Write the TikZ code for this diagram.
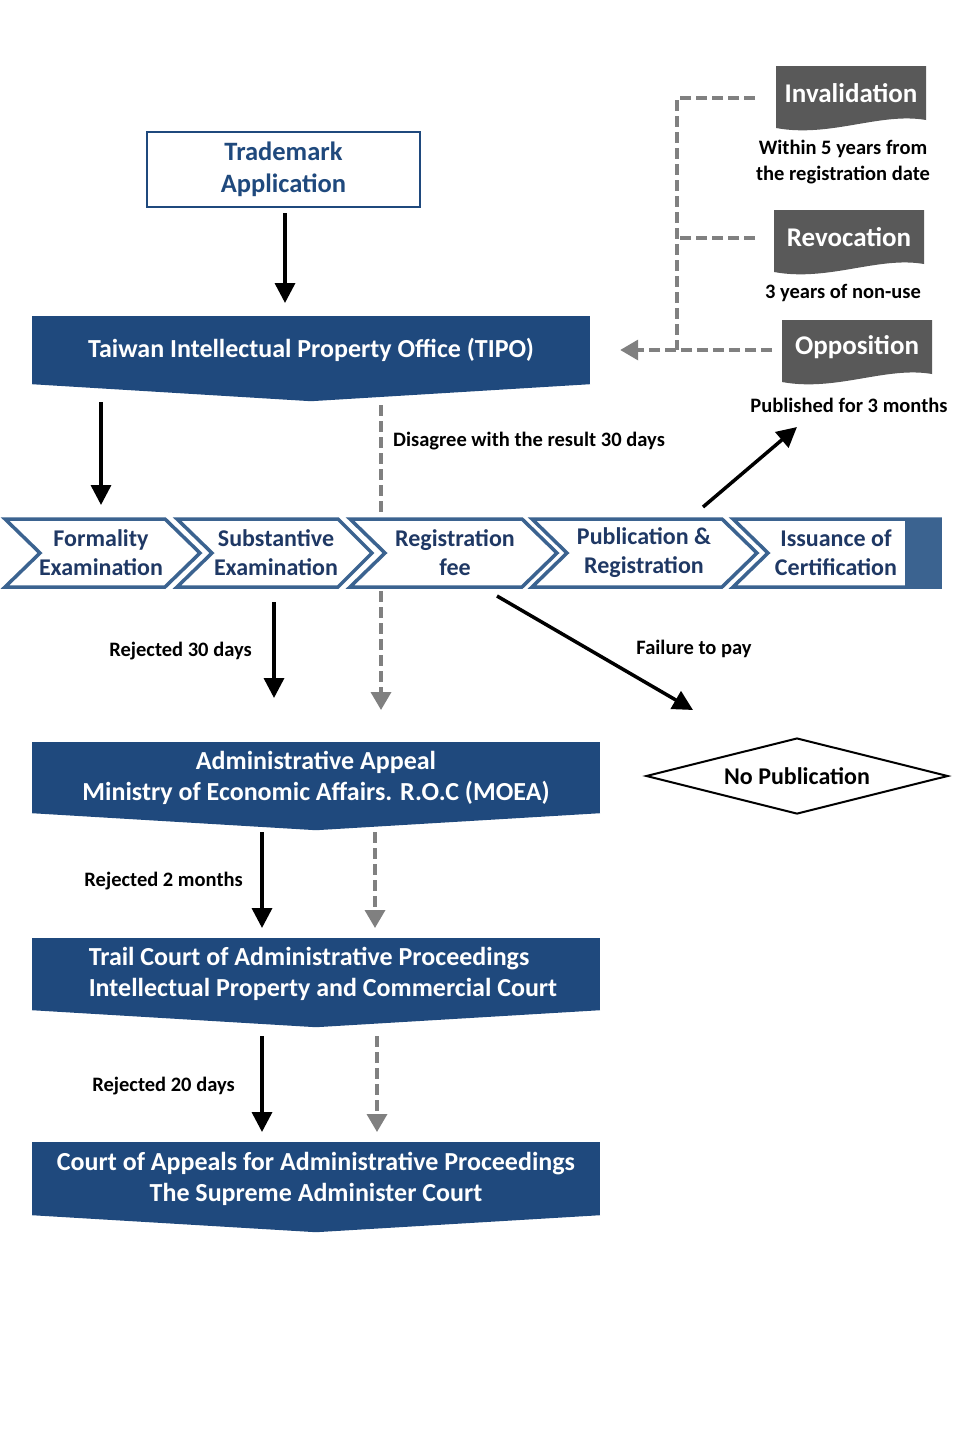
\documentclass[tikz,border=0pt]{standalone}
\usepackage{fontspec}
\setmainfont{Carlito}
\usetikzlibrary{positioning,shapes.geometric,arrows.meta}

\definecolor{tipoblue}{RGB}{31,73,125}
\definecolor{chevblue}{RGB}{59,99,144}
\definecolor{navytext}{RGB}{31,56,100}
\definecolor{docgray}{RGB}{89,89,89}
\definecolor{dashgray}{RGB}{128,128,128}

\tikzset{
  banner/.style={fill=tipoblue,text=white,font=\bfseries\fontsize{26}{31}\selectfont,
    minimum width=568,inner sep=0,align=center},
  chevtext/.style={text=navytext,font=\bfseries\fontsize{24}{29}\selectfont,align=center,inner sep=0},
  chev/.style={draw=chevblue,line width=3.5pt,fill=white,line join=miter},
  docbox/.style={text=white,font=\bfseries\fontsize{27}{30}\selectfont,inner sep=0},
  note/.style={font=\bfseries\fontsize{20.5}{26}\selectfont,align=center,inner sep=0},
  blackarr/.style={line width=3.5pt,-{Triangle[length=20pt,width=20pt]}},
  grayarr/.style={dashgray,line width=3.5pt,dash pattern=on 11pt off 5pt,-{Triangle[length=18pt,width=20pt]}},
  grayline/.style={dashgray,line width=3.5pt,dash pattern=on 11pt off 5pt},
}

\begin{document}
\begin{tikzpicture}[x=1pt,y=-1pt]
\useasboundingbox[fill=white] (0,0) rectangle (960,1440);

% application box
\node[draw=tipoblue,line width=2.5pt,fill=white,minimum width=273,minimum height=75,inner sep=0,
  text=tipoblue,font=\bfseries\fontsize{26.5}{32}\selectfont,align=center] (app) at (283.5,169.5) {Trademark\\Application};

% TIPO banner
\node[banner,minimum width=558,minimum height=68] (tipo) at (311,350) {Taiwan Intellectual Property Office (TIPO)};
\fill[tipoblue] (tipo.south west) -- (tipo.south east) -- ([yshift=-17pt]tipo.south) -- cycle;

% steps row
\draw[chev] (5,519) -- (165,519) -- (200,553) -- (165,587) -- (5,587) -- (40,553) -- cycle;
\draw[chev] (177,519) -- (338,519) -- (372,553) -- (338,587) -- (177,587) -- (212,553) -- cycle;
\draw[chev] (350,519) -- (522,519) -- (557,553) -- (522,587) -- (350,587) -- (385,553) -- cycle;
\draw[chev] (532,519) -- (722,519) -- (757,553) -- (722,587) -- (532,587) -- (567,553) -- cycle;
\draw[chev] (733,519) -- (940,519) -- (940,587) -- (733,587) -- (768,553) -- cycle;
\fill[chevblue] (905,519) rectangle (940,587);
\node[chevtext] (formal) at (101,553) {Formality\\Examination};
\node[chevtext] (subst) at (276,553) {Substantive\\Examination};
\node[chevtext] (fee) at (455,553) {Registration\\fee};
\node[chevtext] (publ) at (644,553) {Publication \&\\Registration};
\node[chevtext] (issue) at (836,553) {Issuance of\\Certification};

% appeal levels
\node[banner,minimum height=71] (appeal) at (316,777.5) {Administrative Appeal\\Ministry of Economic Affairs. R.O.C (MOEA)};
\fill[tipoblue] (appeal.south west) -- (appeal.south east) -- ([yshift=-17pt]appeal.south) -- cycle;
\node[banner,minimum height=72,align=left] (trial) at (316,974) {\hspace*{14pt}Trail Court of Administrative Proceedings\\\hspace*{14pt}Intellectual Property and Commercial Court};
\fill[tipoblue] (trial.south west) -- (trial.south east) -- ([yshift=-17pt]trial.south) -- cycle;
\node[banner,minimum height=73] (supreme) at (316,1178.5) {Court of Appeals for Administrative Proceedings\\The Supreme Administer Court};
\fill[tipoblue] (supreme.south west) -- (supreme.south east) -- ([yshift=-17pt]supreme.south) -- cycle;

% no publication
\node[draw,line width=2pt,diamond,aspect=4,minimum width=302,minimum height=76,inner sep=0,
  font=\bfseries\fontsize{24}{28}\selectfont] (nopub) at (797,776) {No Publication};

% opposition etc
\fill[docgray] (776,66) -- (926,66) -- (926,120) .. controls (880,112) and (830,138) .. (776,128) -- cycle;
\node[docbox] (inval) at (851,93) {Invalidation};
\fill[docgray] (774,210) -- (924,210) -- (924,264) .. controls (878,256) and (828,282) .. (774,272) -- cycle;
\node[docbox] (revoc) at (849,237) {Revocation};
\fill[docgray] (782,320) -- (932,320) -- (932,374) .. controls (886,366) and (836,392) .. (782,382) -- cycle;
\node[docbox] (oppos) at (857,347) {Opposition};
\node[note] (invaltxt) at (843,162) {Within 5 years from\\the registration date};
\node[note] (revoctxt) at (843,293) {3 years of non-use};
\node[note] (oppostxt) at (849,405) {Published for 3 months};

\coordinate (join) at (677,350);
\draw[grayline] (755,98) -| (join);
\draw[grayline] (755,238) -- (677,238);
\draw[grayarr] (772,350) -- ([xshift=30pt]tipo.east);

% labels
\node[note,anchor=west] (disagree) at (393,441) {Disagree with the result 30 days};
\node[note,anchor=east] (rej30) at (252,651) {Rejected 30 days};
\node[note] (failpay) at (694,649) {Failure to pay};
\node[note,anchor=east] (rej2m) at (243,881) {Rejected 2 months};
\node[note,anchor=east] (rej20) at (235,1086) {Rejected 20 days};

% arrows
\draw[blackarr] (285,213) -- (285,303);
\draw[blackarr] (101,402) -- (101,505);
\draw[grayline] (381,405) -- (381,515);
\draw[grayarr] (381,591) -- (381,710);
\draw[blackarr] (703,507) -- (797,427);
\draw[blackarr] (274,602) -- (274,698);
\draw[blackarr] (497,596) -- (693,710);
\draw[blackarr] (262,832) -- (262,928);
\draw[grayarr] (375,832) -- (375,928);
\draw[blackarr] (262,1036) -- (262,1132);
\draw[grayarr] (377,1036) -- (377,1132);
\end{tikzpicture}
\end{document}
